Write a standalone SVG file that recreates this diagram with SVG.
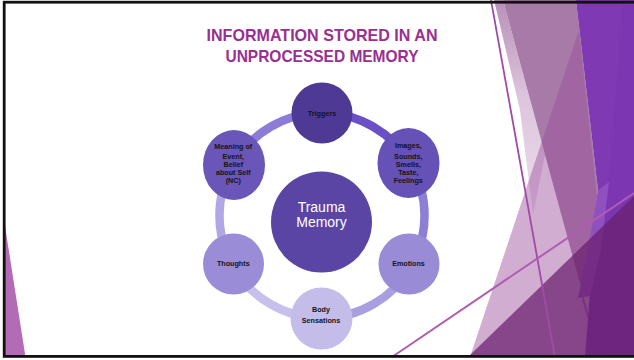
<svg xmlns="http://www.w3.org/2000/svg" width="634" height="360" viewBox="0 0 634 360">
  <defs>
    <style>
      .title { font-family: "Liberation Sans", Arial, sans-serif; font-weight: bold; font-size: 17px; fill: #9a2f92; text-anchor: middle; }
      .lbl { font-family: "Liberation Sans", Arial, sans-serif; font-weight: bold; font-size: 7.2px; fill: #141414; text-anchor: middle; }
      .core { font-family: "Liberation Sans", Arial, sans-serif; font-size: 14px; fill: #ffffff; text-anchor: middle; }
      .ring { fill: none; stroke-width: 8.5; }
    </style>
    <clipPath id="frame">
      <rect x="0" y="0" width="634" height="358"/>
    </clipPath>
    <linearGradient id="paleFacet" x1="0" y1="0" x2="0" y2="1">
      <stop offset="0" stop-color="#b890b8"/>
      <stop offset="0.45" stop-color="#ddc4dd"/>
      <stop offset="1" stop-color="#ecdeec"/>
    </linearGradient>
  </defs>

  <rect x="0" y="0" width="634" height="360" fill="#ffffff"/>

  <!-- facet decoration, right side -->
  <g id="facets" clip-path="url(#frame)">
    <polygon points="494,0 503,0 545,155 533,215 520,110" fill="url(#paleFacet)"/>
    <polygon points="503,0 576,0 598,190 582,300 600,357" fill="#a87aa8"/>
    <polygon points="470,357 579,30 614,357" fill="#9a4c9a" fill-opacity="0.45"/>
    <polygon points="576,0 634,0 634,357 585,357 598,190" fill="#7c36b1"/>
    <polygon points="576,0 623,0 608,190 598,190" fill="#8a46bc" fill-opacity="0.2"/>
    <polygon points="598,190 609,182 601,250 590,296 578,298 588,250" fill="#9050c0"/>
    <polygon points="468,357 634,196 634,357" fill="#6a1f6e" fill-opacity="0.72"/>
    <line x1="491" y1="0" x2="555" y2="357" stroke="#a24aa8" stroke-width="1.8"/>
    <line x1="392" y1="357" x2="634" y2="193" stroke="#b05cb2" stroke-width="2"/>
  </g>

  <!-- facet decoration, bottom left -->
  <polygon id="facet-left" points="5,226 25.5,357 5,357" fill="#b36bb5"/>

  <!-- slide frame -->
  <rect x="4.2" y="2.2" width="640" height="354.2" fill="none" stroke="#111111" stroke-width="2.8"/>

  <!-- title -->
  <g id="title">
    <text class="title" x="322" y="40.7" textLength="231" lengthAdjust="spacingAndGlyphs">INFORMATION STORED IN AN</text>
    <text class="title" x="322" y="61.7" textLength="193" lengthAdjust="spacingAndGlyphs">UNPROCESSED MEMORY</text>
  </g>

  <!-- ring connecting the outer nodes -->
  <g id="connectors">
    <path class="ring" stroke="#6a4fc6" d="M322,113 A102.5,102.5 0 0 1 410.8,164.25"/>
    <path class="ring" stroke="#8e7fd6" d="M410.8,164.25 A102.5,102.5 0 0 1 410.8,266.75"/>
    <path class="ring" stroke="#a99ee0" d="M410.8,266.75 A102.5,102.5 0 0 1 322,318"/>
    <path class="ring" stroke="#c8c0ec" d="M322,318 A102.5,102.5 0 0 1 233.2,266.75"/>
    <path class="ring" stroke="#b1a7e4" d="M233.2,266.75 A102.5,102.5 0 0 1 233.2,164.25"/>
    <path class="ring" stroke="#8d7cd6" d="M233.2,164.25 A102.5,102.5 0 0 1 322,113"/>
  </g>

  <g id="node-trauma">
    <circle cx="321.5" cy="222" r="50.5" fill="#5a44a4"/>
    <text class="core" x="321.5" y="211.7">Trauma</text>
    <text class="core" x="321.5" y="226.7">Memory</text>
  </g>

  <g id="node-triggers">
    <circle cx="322" cy="113" r="30.5" fill="#4e3a95"/>
    <text class="lbl" x="322" y="115.6">Triggers</text>
  </g>

  <g id="node-images">
    <ellipse cx="408.5" cy="163" rx="31" ry="35" fill="#6651b6"/>
    <text class="lbl" x="408.3" y="148.3">Images,</text>
    <text class="lbl" x="408.3" y="158.8">Sounds,</text>
    <text class="lbl" x="408.3" y="166.8">Smells,</text>
    <text class="lbl" x="408.3" y="174.8">Taste,</text>
    <text class="lbl" x="408.3" y="182.8">Feelings</text>
  </g>

  <g id="node-emotions">
    <circle cx="409" cy="264" r="30.5" fill="#9a8bd7"/>
    <text class="lbl" x="408.5" y="266">Emotions</text>
  </g>

  <g id="node-body">
    <circle cx="321.5" cy="318.5" r="31" fill="#c4bce9"/>
    <text class="lbl" x="321" y="312">Body</text>
    <text class="lbl" x="321" y="322.7">Sensations</text>
  </g>

  <g id="node-thoughts">
    <circle cx="233.5" cy="264" r="30.5" fill="#9a8cd6"/>
    <text class="lbl" x="233.3" y="266">Thoughts</text>
  </g>

  <g id="node-meaning">
    <ellipse cx="234" cy="165" rx="31" ry="35" fill="#6a55b8"/>
    <text class="lbl" x="233.3" y="148.5">Meaning of</text>
    <text class="lbl" x="233.3" y="159">Event,</text>
    <text class="lbl" x="233.3" y="167">Belief</text>
    <text class="lbl" x="233.3" y="175">about Self</text>
    <text class="lbl" x="233.3" y="183">(NC)</text>
  </g>
</svg>
